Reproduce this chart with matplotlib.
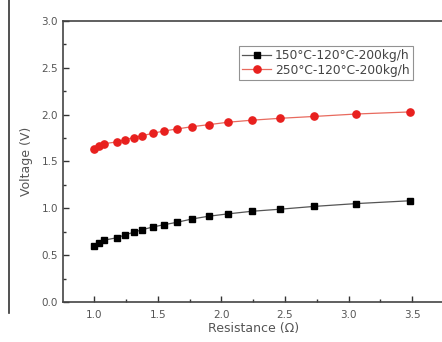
import numpy as np
import matplotlib.pyplot as plt
from matplotlib.lines import Line2D

# Resistance (ohm) values shared by both series
resistance = [1.00, 1.04, 1.08, 1.18, 1.24, 1.31, 1.38, 1.46, 1.55, 1.65,
              1.77, 1.90, 2.05, 2.24, 2.46, 2.73, 3.06, 3.48]

volt_150 = [0.60, 0.625, 0.66, 0.686, 0.715, 0.744, 0.772, 0.80, 0.825, 0.85,
            0.886, 0.915, 0.94, 0.968, 0.99, 1.02, 1.05, 1.08]
volt_250 = [1.636, 1.665, 1.69, 1.708, 1.732, 1.754, 1.775, 1.80, 1.825, 1.846,
            1.871, 1.892, 1.918, 1.94, 1.96, 1.98, 2.006, 2.028]

labels = ['150\u00b0C-120\u00b0C-200kg/h', '250\u00b0C-120\u00b0C-200kg/h']

fig = plt.figure(figsize=(4.42, 3.42), dpi=100)
ax = fig.add_axes([0.1425, 0.117, 0.862, 0.822])

ax.plot(resistance, volt_150, color='#555555', lw=0.9, marker='s', ms=4.6,
        mfc='black', mec='black', label=labels[0])
ax.plot(resistance, volt_250, color='#e86a5e', lw=0.9, marker='o', ms=5.2,
        mfc='#e8201e', mec='#e8201e', label=labels[1])

ax.set_xlim(0.755, 3.75)
ax.set_ylim(0, 3.0)
ax.set_xticks([1.0, 1.5, 2.0, 2.5, 3.0, 3.5])
ax.set_xticks(np.arange(1.25, 3.75, 0.5), minor=True)
ax.set_yticks(np.arange(0, 3.01, 0.5))
ax.set_yticks(np.arange(0.25, 3.0, 0.5), minor=True)
ax.tick_params(which='both', direction='in', labelsize=7.5, labelcolor='#555555',
               color='#333333')
ax.tick_params(which='major', length=4, width=1)
ax.tick_params(which='minor', length=2.5, width=1)
ax.tick_params(axis='x', pad=6)

for s in ax.spines.values():
    s.set_color('#444444')
    s.set_linewidth(1.2)

ax.set_xlabel('Resistance (\u03a9)', fontsize=9, color='#555555', labelpad=1)
ax.set_ylabel('Voltage (V)', fontsize=9, color='#555555', labelpad=6)

leg = ax.legend(loc='upper left', bbox_to_anchor=(0.462, 0.911), fontsize=8.8,
                frameon=True, fancybox=False, edgecolor='#777777',
                borderpad=0.25, handlelength=2.4, labelspacing=0.15,
                handletextpad=0.3, borderaxespad=0)
leg.get_frame().set_linewidth(0.8)
for t in leg.get_texts():
    t.set_color('#444444')

# left border line of the scanned figure
fig.add_artist(Line2D([0.021, 0.021], [0.085, 1.0], color='#333333', lw=1.2))

fig.savefig('out.png', dpi=100)
